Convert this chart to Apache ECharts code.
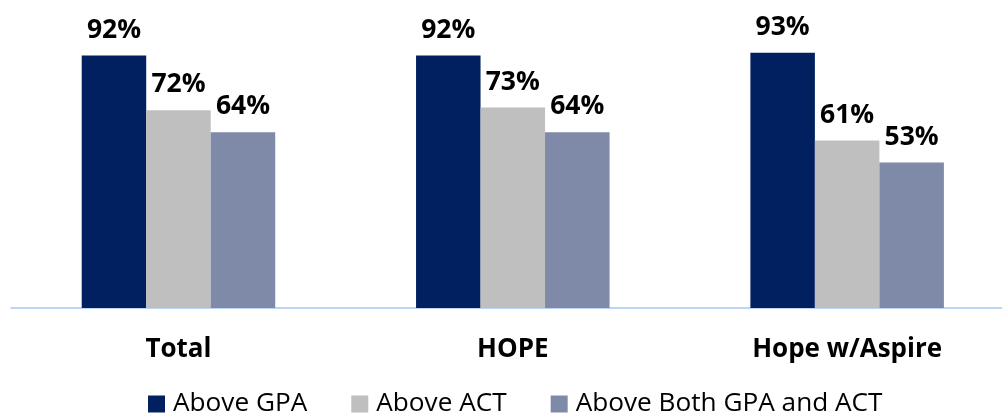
<!DOCTYPE html>
<html>
<head>
<meta charset="utf-8">
<script src="https://cdn.jsdelivr.net/npm/echarts@6/dist/echarts.min.js"></script>
<style>html,body{margin:0;padding:0;background:#fff;}#c{width:1002px;height:418px;}</style>
</head>
<body>
<div id="c"></div>
<script>
var categories = ['Total', 'HOPE', 'Hope w/Aspire'];
var seriesNames = ['Above GPA', 'Above ACT', 'Above Both GPA and ACT'];
var aboveGPA = [92, 92, 93];
var aboveACT = [72, 73, 61];
var aboveBoth = [64, 64, 53];
var colors = ['#002060', '#bfbfbf', '#7f8aa8'];

var chart = echarts.init(document.getElementById('c'), null, {renderer: 'canvas'});
var dataSets = [aboveGPA, aboveACT, aboveBoth];
var series = dataSets.map(function (d, i) {
  return {
    name: seriesNames[i],
    type: 'bar',
    data: d,
    barWidth: 64.5,
    barGap: '0%',
    itemStyle: {color: colors[i]},
    label: {
      show: true,
      position: 'top',
      distance: 12,
      formatter: '{c}%',
      fontFamily: 'Open Sans',
      fontWeight: 'bold',
      fontSize: 26.5,
      color: '#000'
    }
  };
});
chart.setOption({
  animation: false,
  grid: {left: 11.3, right: -12.3, top: 33.5, bottom: 110, containLabel: false, outerBoundsMode: 'none'},
  legend: {
    left: 148,
    top: 391,
    padding: 0,
    itemWidth: 17,
    itemHeight: 17,
    itemGap: 44,
    icon: 'rect',
    textStyle: {fontFamily: 'Open Sans', fontSize: 26.2, color: '#000', padding: [0, 0, 0, 3]},
    data: seriesNames
  },
  xAxis: {
    type: 'category',
    data: categories,
    axisLine: {show: true, lineStyle: {color: '#bed4f6', width: 2}},
    axisTick: {show: false},
    axisLabel: {
      margin: 29,
      fontFamily: 'Open Sans',
      fontWeight: 'bold',
      fontSize: 26,
      color: '#000'
    }
  },
  yAxis: {
    type: 'value',
    min: 0,
    max: 100,
    show: false,
    splitLine: {show: false}
  },
  series: series
});
</script>
</body>
</html>
